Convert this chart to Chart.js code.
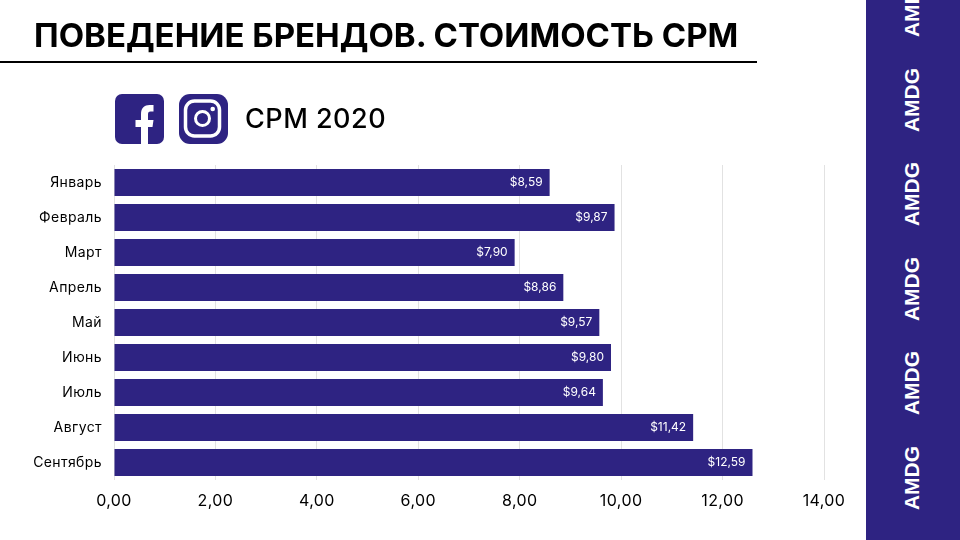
<!DOCTYPE html>
<html lang="ru">
<head>
<meta charset="utf-8">
<title>Поведение брендов. Стоимость CPM</title>
<script src="https://cdn.jsdelivr.net/npm/chart.js@4"></script>
<style>
    html, body { margin: 0; padding: 0; background: #fff; }
    #slide { position: relative; width: 960px; height: 540px; overflow: hidden; font-family: Inter, sans-serif; }
    #chart { position: absolute; left: 0; top: 0; }
    #title { position: absolute; left: 34px; top: 14px; font-size: 33px; line-height: 42px; font-weight: 700; color: #000; white-space: nowrap; }
    #rule { position: absolute; left: 0; top: 61px; width: 757px; height: 2px; background: #000; }
    #subtitle { position: absolute; left: 245px; top: 100px; font-size: 27px; line-height: 38px; font-weight: 500; color: #000; letter-spacing: 0.5px; white-space: nowrap; }
    .icon { position: absolute; top: 94px; width: 49px; height: 50px; }
    #side { position: absolute; left: 866px; top: 0; width: 94px; height: 540px; background: #2e2382; }
    .amdg { position: absolute; left: 46px; width: 0; height: 0; }
    .amdg span { position: absolute; transform: translate(-50%, -50%) rotate(-90deg); font-family: "Liberation Sans", Arial, sans-serif; font-weight: 700; font-size: 21px; color: #fff; white-space: nowrap; }
</style>
</head>
<body>
<div id="slide">
    <canvas id="chart" width="960" height="540"></canvas>
    <div id="title">ПОВЕДЕНИЕ БРЕНДОВ. СТОИМОСТЬ СРМ</div>
    <div id="rule"></div>
    <svg class="icon" style="left:115px" viewBox="0 0 49 50">
        <rect width="49" height="50" rx="7" fill="#2e2382"/>
        <path d="M26 50V33h-5.500v-7H26v-6c0-6 3.500-9 8.500-9h4v6.500h-3c-2 0-2.500 1-2.500 3V26h5.500l-1 7H33v17z" fill="#fff"/>
    </svg>
    <svg class="icon" style="left:179px" viewBox="0 0 49 50">
        <rect width="49" height="50" rx="11" fill="#2e2382"/>
        <rect x="6.500" y="7" width="34" height="35" rx="9" fill="none" stroke="#fff" stroke-width="3.500"/>
        <circle cx="23.500" cy="24.500" r="7" fill="none" stroke="#fff" stroke-width="3"/>
        <circle cx="33.700" cy="15" r="2.300" fill="#fff"/>
    </svg>
    <div id="subtitle">CPM 2020</div>
    <div id="side"></div>
</div>
<script>
const MONTHS = ["Январь", "Февраль", "Март", "Апрель", "Май", "Июнь", "Июль", "Август", "Сентябрь"];
const CPM_2020 = [8.59, 9.87, 7.90, 8.86, 9.57, 9.80, 9.64, 11.42, 12.59];
const SIDE_LABELS = ["AMDG", "AMDG", "AMDG", "AMDG", "AMDG", "AMDG"];

// Разрядка для подписей осей
const tickSpacing = {
    id: "tickSpacing",
    beforeDraw(chart) {
        chart.ctx.letterSpacing = "0.4px";
    }
};

// Подпись справа внутри полосы
const barLabels = {
    id: "barLabels",
    afterDatasetsDraw(chart) {
        const ctx = chart.ctx;
        const bars = chart.getDatasetMeta(0).data;
        ctx.save();
        ctx.letterSpacing = "0px";
        ctx.fillStyle = "#fff";
        ctx.font = "12px Inter";
        ctx.textAlign = "right";
        ctx.textBaseline = "middle";
        bars.forEach((bar, i) => {
            ctx.fillText("$" + CPM_2020[i].toFixed(2).replace(".", ","), bar.x - 7, bar.y);
        });
        ctx.restore();
    }
};

new Chart(document.getElementById("chart").getContext("2d"), {
    type: "bar",
    data: {
        labels: MONTHS,
        datasets: [{
            data: CPM_2020,
            backgroundColor: "#2e2382",
            borderWidth: 0,
            barPercentage: 0.77,
            categoryPercentage: 1
        }]
    },
    options: {
        indexAxis: "y",
        responsive: false,
        animation: false,
        devicePixelRatio: 1,
        layout: { padding: { left: 0, right: 136, top: 165, bottom: 0 } },
        plugins: { legend: { display: false }, tooltip: { enabled: false } },
        scales: {
            x: {
                min: 0,
                max: 14,
                ticks: {
                    stepSize: 2,
                    color: "#000",
                    padding: 12,
                    font: { family: "Inter", size: 16 },
                    callback: v => v.toFixed(2).replace(".", ",")
                },
                grid: { color: "#e2e2e2", lineWidth: 1, drawTicks: false },
                border: { display: false },
                afterFit: scale => { scale.height = 60; }
            },
            y: {
                ticks: {
                    color: "#000",
                    padding: 12,
                    font: { family: "Inter", size: 14 }
                },
                grid: { display: false, drawTicks: false },
                border: { display: false },
                afterFit: scale => { scale.width = 114; }
            }
        }
    },
    plugins: [tickSpacing, barLabels]
});

// Боковая полоса с повёрнутыми надписями
const side = document.getElementById("side");
SIDE_LABELS.forEach((text, i) => {
    let item = document.createElement("div");
    item.className = "amdg";
    item.style.top = (5 + i * 94.5) + "px";
    item.innerHTML = `<span>${text}</span>`;
    side.appendChild(item);
});
</script>
</body>
</html>
